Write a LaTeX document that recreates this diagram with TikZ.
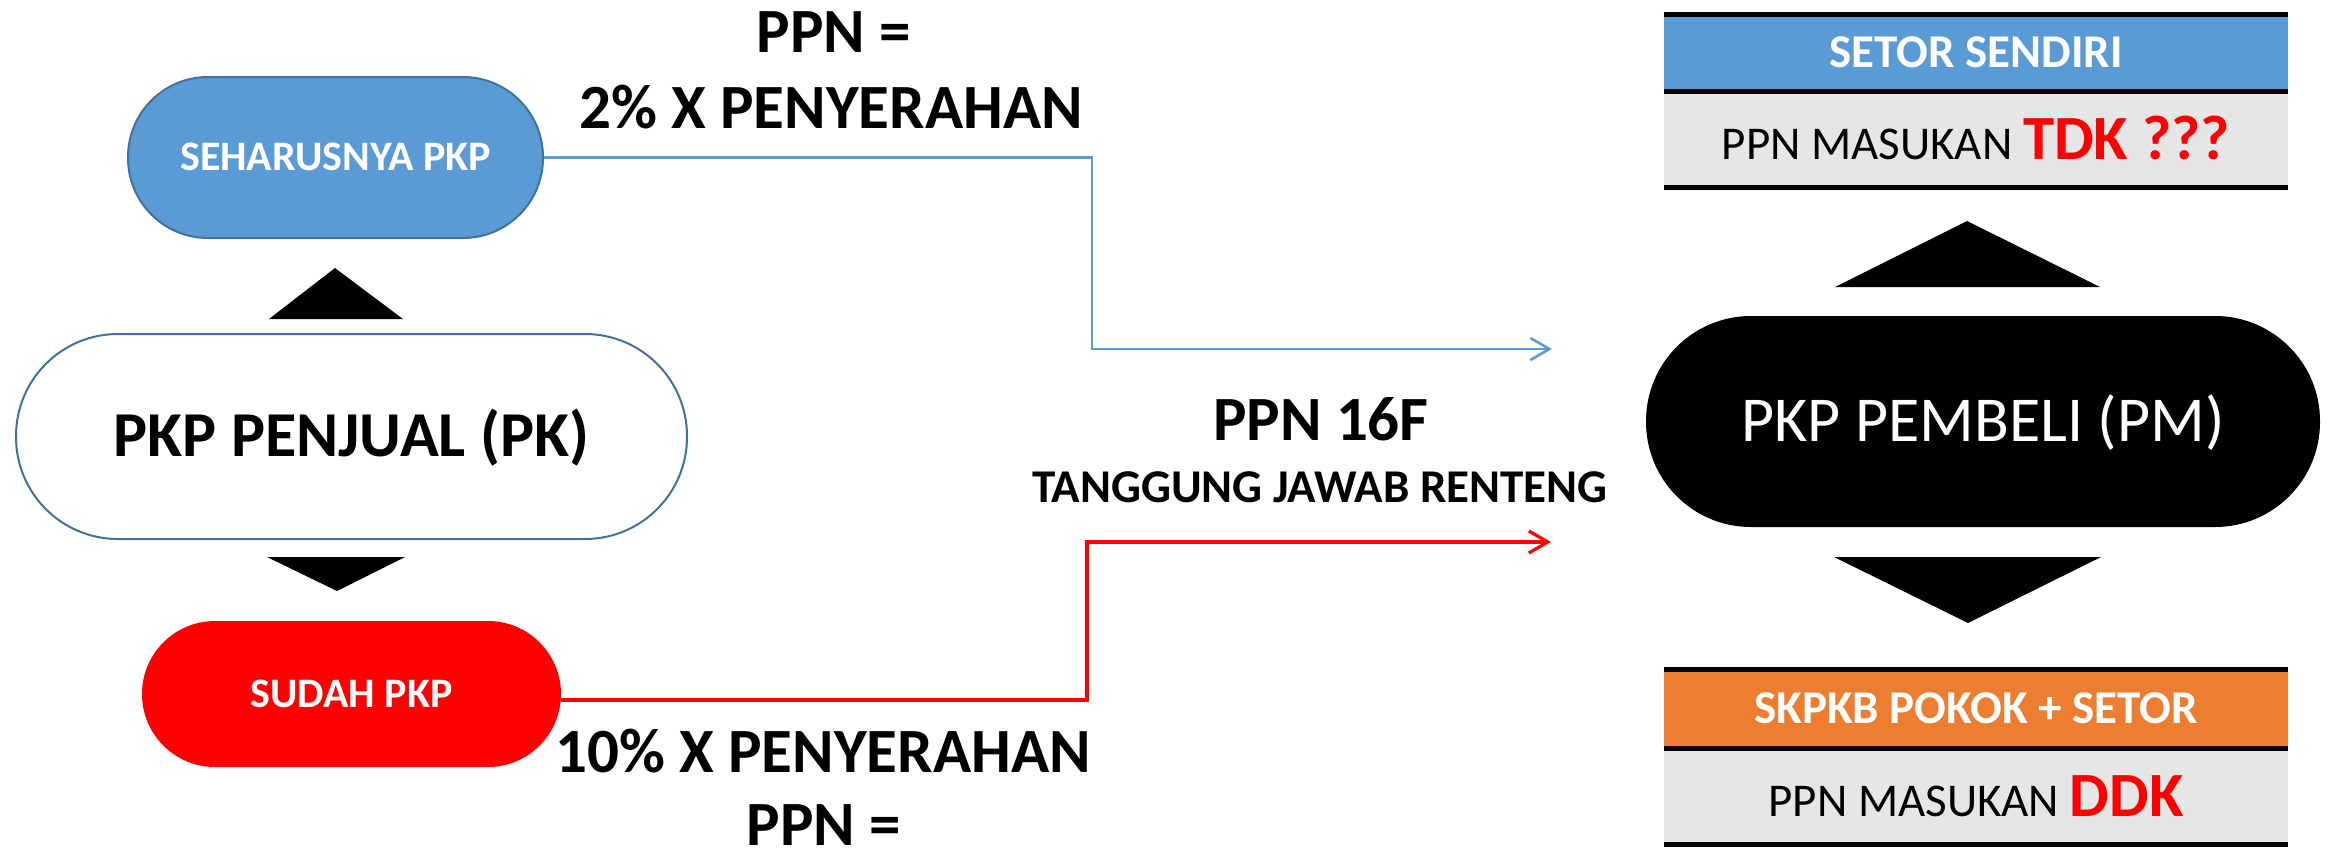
\documentclass[tikz,border=0pt]{standalone}
\usepackage{fontspec}
\setmainfont{Carlito}
\usetikzlibrary{arrows.meta,calc}
\definecolor{pblue}{HTML}{5B9BD5}
\definecolor{pedge}{HTML}{41719C}
\definecolor{porange}{HTML}{ED7D31}
\definecolor{pgray}{HTML}{E7E6E6}
\definecolor{pred}{HTML}{FF0000}
\begin{document}
\begin{tikzpicture}[x=1pt,y=-1pt,
  term/.style={rectangle, inner sep=0pt, text depth=0pt, align=center},
  band/.style={rectangle, inner sep=0pt, minimum width=624pt, text depth=0pt},
  bigbold/.style={font=\fontsize{63}{76}\selectfont\bfseries},
  midbold/.style={font=\fontsize{47}{56}\selectfont\bfseries},
  midreg/.style={font=\fontsize{47}{56}\selectfont},
  smallbold/.style={font=\fontsize{42}{50}\selectfont\bfseries},
  lbl/.style={anchor=base, inner sep=0pt},
  rule/.style={line width=5pt, black},
  tri/.style={fill=black},
  bluecon/.style={draw=pblue, line width=2.6pt, -{Straight Barb[length=19pt,width=22pt]}},
  redcon/.style={draw=pred, line width=3.2pt, -{Straight Barb[length=19pt,width=22pt]}}
]
\useasboundingbox (0,0) rectangle (2328,852);

% left column
\node[term, minimum width=415pt, minimum height=161pt, rounded corners=80pt,
  fill=pblue, draw=pedge, line width=2pt, text=white, text height=26.5pt, smallbold]
  (seharus) at (335.5,157.5) {SEHARUSNYA PKP};
\node[term, minimum width=671pt, minimum height=205pt, rounded corners=102pt,
  fill=white, draw=pedge, line width=2pt, text height=40.5pt,
  font=\fontsize{64}{76}\selectfont\bfseries]
  (penjual) at (351.5,436.5) {PKP PENJUAL (PK)};
\node[term, minimum width=419pt, minimum height=146pt, rounded corners=73pt,
  fill=pred, text=white, text height=26.5pt, smallbold]
  (sudah) at (351.5,694) {SUDAH PKP};

\fill[tri] (269,319) -- (335,268) -- (403,319) -- cycle;
\fill[tri] (267,557) -- (405,557) -- (337,591) -- cycle;

% right column
\node[term, minimum width=674pt, minimum height=211pt, rounded corners=105pt,
  fill=black, text=white, text height=40.5pt, font=\fontsize{64}{76}\selectfont]
  (pembeli) at (1983,421.5) {PKP PEMBELI (PM)};

\fill[tri] (1835,287) -- (1967,221) -- (2100,287) -- cycle;
\fill[tri] (1834,557) -- (2101,557) -- (1968,623) -- cycle;

\node[band, minimum height=77pt, fill=pblue, text=white, text height=29.7pt, midbold]
  (setor) at (1976,53) {SETOR SENDIRI};
\node[band, minimum height=96pt, fill=pgray, text height=39.8pt, midreg]
  (pmtdk) at (1976,139.5) {PPN MASUKAN {\color{pred}\fontsize{63}{76}\selectfont\bfseries TDK ???}};
\node[band, minimum height=78pt, fill=porange, text=white, text height=29.7pt, midbold]
  (skpkb) at (1976,709) {SKPKB POKOK + SETOR};
\node[band, minimum height=96.5pt, fill=pgray, text height=39.8pt, midreg]
  (pmddk) at (1976,796.25) {PPN MASUKAN {\color{pred}\fontsize{63}{76}\selectfont\bfseries DDK}};

\draw[rule] (setor.north west) -- (setor.north east);
\draw[rule] (setor.south west) -- (setor.south east);
\draw[rule] (pmtdk.south west) -- (pmtdk.south east);
\draw[rule] (skpkb.north west) -- (skpkb.north east);
\draw[rule] (skpkb.south west) -- (skpkb.south east);
\draw[rule] (pmddk.south west) -- (pmddk.south east);

% labels
\node[lbl, bigbold] (ppnA) at (834,52) {PPN =};
\node[lbl, bigbold] (pctA) at (831,128) {2\% X PENYERAHAN};
\node[lbl, bigbold] (ppn16) at (1321,440) {PPN 16F};
\node[lbl, midbold] (renteng) at (1320,502) {TANGGUNG JAWAB RENTENG};
\node[lbl, bigbold] (pctB) at (823,772) {10\% X PENYERAHAN};
\node[lbl, bigbold] (ppnB) at (824,845) {PPN =};

% connectors
\coordinate (bTurn) at (1092,349);
\coordinate (bEnd) at (1552,349);
\draw[bluecon] (seharus.east) -| (bTurn) -- (bEnd);
\coordinate (rTurn) at (1087,542);
\coordinate (rEnd) at (1551,542);
\draw[redcon] ([yshift=-6pt]sudah.east) -| (rTurn) -- (rEnd);
\end{tikzpicture}
\end{document}
